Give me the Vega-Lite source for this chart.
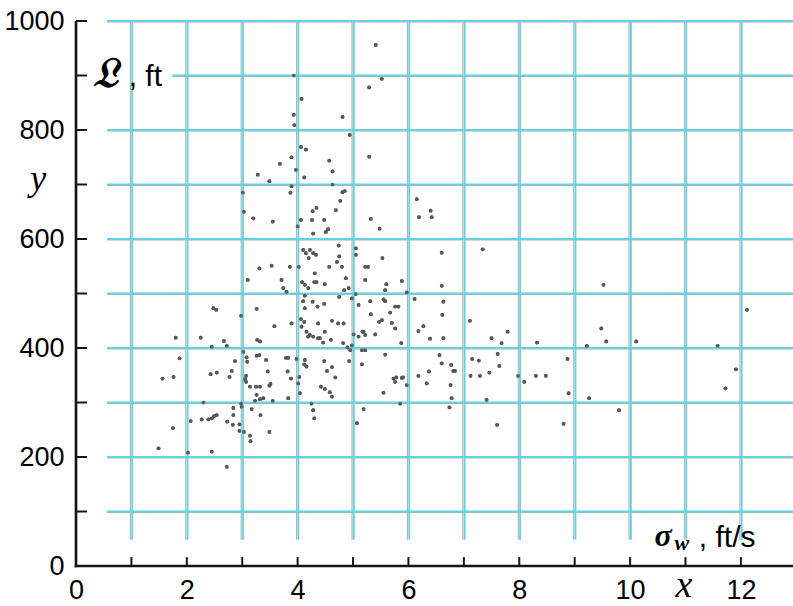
{
  "$schema": "https://vega.github.io/schema/vega-lite/v6.json",
  "width": 717,
  "height": 545,
  "autosize": {"type": "none"},
  "padding": {"left": 76, "top": 21, "right": 0, "bottom": 40},
  "background": "white",
  "config": {
    "view": {"stroke": null},
    "axis": {
      "grid": false,
      "domain": false,
      "ticks": false,
      "labelFont": "Liberation Sans",
      "labelFontSize": 27,
      "labelColor": "black"
    }
  },
  "datasets": {
    "pts": [
      {"s":5.41,"L":956},{"s":5.52,"L":894},{"s":5.29,"L":878},{"s":4.07,"L":857},{"s":3.93,"L":900},{"s":3.93,"L":828},{"s":3.94,"L":809},{"s":4.81,"L":824},{"s":4.94,"L":791},{"s":4.06,"L":769},
      {"s":4.15,"L":764},{"s":3.89,"L":750},{"s":3.68,"L":738},{"s":5.29,"L":751},{"s":4.57,"L":744},{"s":4.63,"L":724},{"s":3.28,"L":718},{"s":3.49,"L":706},{"s":4.12,"L":713},{"s":3.97,"L":727},
      {"s":3.89,"L":697},{"s":3.87,"L":685},{"s":4.63,"L":700},{"s":4.81,"L":686},{"s":4.85,"L":688},{"s":3.01,"L":685},{"s":4.77,"L":670},{"s":6.15,"L":673},{"s":3.03,"L":650},{"s":3.20,"L":638},
      {"s":3.55,"L":632},{"s":4.69,"L":653},{"s":4.27,"L":651},{"s":4.34,"L":657},{"s":4.06,"L":635},{"s":4.26,"L":635},{"s":4.48,"L":635},{"s":6.40,"L":652},{"s":6.42,"L":640},{"s":6.19,"L":640},
      {"s":4.00,"L":623},{"s":4.28,"L":610},{"s":4.51,"L":613},{"s":4.55,"L":618},{"s":5.32,"L":637},{"s":5.48,"L":619},{"s":4.74,"L":588},{"s":4.15,"L":574},{"s":4.22,"L":580},{"s":4.28,"L":574},
      {"s":4.33,"L":571},{"s":4.10,"L":580},{"s":4.20,"L":565},{"s":5.05,"L":583},{"s":5.05,"L":571},{"s":4.75,"L":568},{"s":5.53,"L":565},{"s":6.60,"L":575},{"s":7.34,"L":581},{"s":3.31,"L":546},
      {"s":3.53,"L":551},{"s":3.86,"L":549},{"s":4.02,"L":549},{"s":4.57,"L":549},{"s":4.80,"L":549},{"s":4.71,"L":558},{"s":5.22,"L":549},{"s":5.27,"L":549},{"s":3.10,"L":525},{"s":3.71,"L":525},
      {"s":3.74,"L":510},{"s":3.80,"L":503},{"s":4.08,"L":521},{"s":4.13,"L":516},{"s":4.19,"L":510},{"s":4.31,"L":537},{"s":4.30,"L":521},{"s":4.34,"L":521},{"s":4.49,"L":517},{"s":4.87,"L":528},
      {"s":4.92,"L":510},{"s":4.84,"L":506},{"s":4.75,"L":494},{"s":5.22,"L":525},{"s":5.60,"L":517},{"s":5.58,"L":506},{"s":5.88,"L":523},{"s":6.60,"L":514},{"s":9.52,"L":516},{"s":5.97,"L":502},
      {"s":6.11,"L":490},{"s":6.63,"L":485},{"s":6.61,"L":461},{"s":5.05,"L":499},{"s":4.98,"L":491},{"s":5.10,"L":479},{"s":5.31,"L":486},{"s":5.55,"L":489},{"s":5.58,"L":486},{"s":5.76,"L":476},
      {"s":5.67,"L":465},{"s":5.32,"L":462},{"s":5.82,"L":476},{"s":5.47,"L":448},{"s":5.52,"L":451},{"s":5.70,"L":446},{"s":5.76,"L":436},{"s":5.22,"L":424},{"s":5.17,"L":430},{"s":6.18,"L":431},
      {"s":6.27,"L":440},{"s":6.39,"L":417},{"s":6.63,"L":418},{"s":4.13,"L":496},{"s":4.10,"L":486},{"s":4.27,"L":485},{"s":4.48,"L":481},{"s":4.13,"L":473},{"s":4.36,"L":476},{"s":4.37,"L":445},
      {"s":4.62,"L":450},{"s":4.73,"L":445},{"s":4.83,"L":445},{"s":3.89,"L":445},{"s":4.06,"L":453},{"s":4.07,"L":439},{"s":4.12,"L":448},{"s":4.16,"L":430},{"s":4.22,"L":424},{"s":4.49,"L":430},
      {"s":5.01,"L":425},{"s":5.10,"L":421},{"s":5.19,"L":430},{"s":5.40,"L":425},{"s":4.37,"L":418},{"s":4.60,"L":415},{"s":4.82,"L":409},{"s":4.98,"L":405},{"s":4.95,"L":396},{"s":4.90,"L":401},
      {"s":5.22,"L":396},{"s":5.16,"L":396},{"s":4.19,"L":421},{"s":4.28,"L":421},{"s":4.40,"L":418},{"s":4.46,"L":410},{"s":5.87,"L":409},{"s":5.58,"L":388},{"s":5.16,"L":370},{"s":4.93,"L":376},
      {"s":6.56,"L":387},{"s":6.60,"L":372},{"s":6.77,"L":369},{"s":6.81,"L":358},{"s":6.37,"L":357},{"s":6.18,"L":349},{"s":6.33,"L":335},{"s":5.78,"L":346},{"s":5.76,"L":338},{"s":5.88,"L":345},
      {"s":5.97,"L":332},{"s":5.55,"L":318},{"s":5.85,"L":298},{"s":6.76,"L":332},{"s":6.78,"L":308},{"s":6.74,"L":291},{"s":5.19,"L":288},{"s":5.07,"L":262},{"s":4.48,"L":376},{"s":4.53,"L":358},
      {"s":4.62,"L":365},{"s":4.68,"L":346},{"s":4.42,"L":329},{"s":4.49,"L":325},{"s":4.58,"L":319},{"s":4.62,"L":311},{"s":4.13,"L":378},{"s":4.16,"L":366},{"s":4.12,"L":370},{"s":4.03,"L":347},
      {"s":4.01,"L":335},{"s":3.88,"L":344},{"s":3.83,"L":382},{"s":3.98,"L":380},{"s":3.83,"L":308},{"s":4.04,"L":317},{"s":4.25,"L":298},{"s":4.28,"L":286},{"s":4.30,"L":271},{"s":3.58,"L":440},
      {"s":1.80,"L":419},{"s":2.25,"L":419},{"s":2.67,"L":413},{"s":2.72,"L":404},{"s":2.45,"L":402},{"s":3.27,"L":415},{"s":3.32,"L":412},{"s":1.87,"L":381},{"s":2.87,"L":376},{"s":3.02,"L":393},
      {"s":3.08,"L":383},{"s":3.09,"L":375},{"s":3.26,"L":386},{"s":3.31,"L":387},{"s":3.43,"L":378},{"s":3.46,"L":357},{"s":3.51,"L":334},{"s":2.43,"L":352},{"s":2.54,"L":355},{"s":2.77,"L":347},
      {"s":2.81,"L":358},{"s":1.56,"L":344},{"s":1.76,"L":347},{"s":3.07,"L":349},{"s":3.05,"L":343},{"s":3.07,"L":338},{"s":3.14,"L":329},{"s":3.25,"L":329},{"s":3.26,"L":314},{"s":3.32,"L":306},
      {"s":3.23,"L":303},{"s":3.38,"L":308},{"s":3.55,"L":303},{"s":3.32,"L":329},{"s":3.49,"L":331},{"s":3.79,"L":382},{"s":3.82,"L":357},{"s":2.30,"L":300},{"s":2.84,"L":290},{"s":2.84,"L":277},
      {"s":2.98,"L":298},{"s":2.99,"L":292},{"s":3.17,"L":288},{"s":3.33,"L":277},{"s":3.49,"L":246},{"s":2.07,"L":266},{"s":2.27,"L":269},{"s":2.39,"L":269},{"s":2.45,"L":271},{"s":2.49,"L":275},
      {"s":2.54,"L":277},{"s":2.73,"L":265},{"s":2.83,"L":259},{"s":2.95,"L":260},{"s":1.75,"L":253},{"s":2.95,"L":248},{"s":3.03,"L":246},{"s":3.14,"L":239},{"s":3.15,"L":229},{"s":1.49,"L":216},
      {"s":2.02,"L":208},{"s":2.45,"L":210},{"s":2.72,"L":182},{"s":2.48,"L":473},{"s":2.53,"L":470},{"s":3.26,"L":472},{"s":2.98,"L":459},{"s":7.11,"L":450},{"s":7.50,"L":418},{"s":7.68,"L":409},
      {"s":7.79,"L":430},{"s":8.32,"L":410},{"s":9.22,"L":404},{"s":9.48,"L":436},{"s":9.57,"L":412},{"s":7.15,"L":380},{"s":7.27,"L":377},{"s":7.61,"L":389},{"s":7.64,"L":367},{"s":7.46,"L":355},
      {"s":7.12,"L":349},{"s":7.29,"L":349},{"s":6.84,"L":358},{"s":7.98,"L":349},{"s":8.09,"L":338},{"s":8.30,"L":349},{"s":8.48,"L":349},{"s":8.87,"L":380},{"s":8.89,"L":317},{"s":9.26,"L":308},
      {"s":7.41,"L":305},{"s":7.60,"L":259},{"s":8.80,"L":261},{"s":12.11,"L":470},{"s":10.11,"L":412},{"s":11.58,"L":404},{"s":11.91,"L":361},{"s":11.72,"L":326},{"s":9.80,"L":286},{"s":5.73,"L":344},
      {"s":5.90,"L":346}
    ],
    "vlines": [{"v":1},{"v":2},{"v":3},{"v":4},{"v":5},{"v":6},{"v":7},{"v":8},{"v":9},{"v":10},{"v":11},{"v":12}],
    "hlines": [
      {"h":100,"start":0.56},{"h":200,"start":0.56},{"h":300,"start":0.56},{"h":400,"start":0.56},{"h":500,"start":0.56},
      {"h":600,"start":0.56},{"h":700,"start":0.56},{"h":800,"start":0.56},{"h":900,"start":1.74},{"h":1000,"start":0.56}
    ],
    "yticks": [{"t":100},{"t":200},{"t":300},{"t":400},{"t":500},{"t":600},{"t":700},{"t":800},{"t":900},{"t":1000}]
  },
  "layer": [
    {
      "data": {"name": "pts"},
      "mark": {"type": "circle", "size": 14, "color": "#555555", "opacity": 0.9},
      "encoding": {
        "x": {
          "field": "s", "type": "quantitative",
          "scale": {"domain": [0, 12.94], "nice": false, "zero": false},
          "axis": {
            "title": null,
            "values": [0,2,4,6,8,10,12],
            "labelPadding": 11,
            "labelFlush": false,
            "labelOverlap": false
          }
        },
        "y": {
          "field": "L", "type": "quantitative",
          "scale": {"domain": [0, 1000], "nice": false},
          "axis": {
            "title": null,
            "values": [0,200,400,600,800,1000],
            "format": "d",
            "labelPadding": 12,
            "labelFlush": false,
            "labelOverlap": false
          }
        }
      }
    },
    {
      "data": {"values": [{}]},
      "mark": {"type": "rect", "fill": "#141414"},
      "encoding": {
        "x": {"datum": -0.024, "type": "quantitative"},
        "x2": {"datum": 0.024},
        "y": {"datum": -2.5, "type": "quantitative"},
        "y2": {"datum": 1000}
      }
    },
    {
      "data": {"values": [{}]},
      "mark": {"type": "rect", "fill": "#141414"},
      "encoding": {
        "x": {"datum": -0.024, "type": "quantitative"},
        "x2": {"datum": 12.94},
        "y": {"datum": -2.4, "type": "quantitative"},
        "y2": {"datum": 2.4}
      }
    },
    {
      "data": {"name": "yticks"},
      "mark": {"type": "tick", "orient": "horizontal", "size": 11, "thickness": 2, "color": "#141414", "opacity": 1},
      "encoding": {
        "y": {"field": "t", "type": "quantitative"},
        "x": {"datum": 0.1, "type": "quantitative"}
      }
    },
    {
      "data": {"name": "vlines"},
      "mark": {"type": "tick", "orient": "vertical", "size": 9, "thickness": 2, "color": "#141414", "opacity": 1},
      "encoding": {
        "x": {"field": "v", "type": "quantitative"},
        "y": {"datum": 8, "type": "quantitative"}
      }
    },
    {
      "data": {"name": "vlines"},
      "mark": {"type": "rule", "color": "#b3b3b3", "strokeWidth": 1.2, "xOffset": -1},
      "encoding": {
        "x": {"field": "v", "type": "quantitative"},
        "y": {"datum": 48, "type": "quantitative"},
        "y2": {"datum": 1000}
      }
    },
    {
      "data": {"name": "vlines"},
      "mark": {"type": "rule", "color": "#5fd4e6", "strokeWidth": 1.8, "xOffset": 0.8},
      "encoding": {
        "x": {"field": "v", "type": "quantitative"},
        "y": {"datum": 48, "type": "quantitative"},
        "y2": {"datum": 1000}
      }
    },
    {
      "data": {"name": "hlines"},
      "mark": {"type": "rule", "color": "#b3b3b3", "strokeWidth": 1.2, "yOffset": 1},
      "encoding": {
        "y": {"field": "h", "type": "quantitative"},
        "x": {"field": "start", "type": "quantitative"},
        "x2": {"datum": 12.94}
      }
    },
    {
      "data": {"name": "hlines"},
      "mark": {"type": "rule", "color": "#5fd4e6", "strokeWidth": 1.8},
      "encoding": {
        "y": {"field": "h", "type": "quantitative"},
        "x": {"field": "start", "type": "quantitative"},
        "x2": {"datum": 12.94}
      }
    },
    {
      "data": {"name": "pts"},
      "mark": {"type": "circle", "size": 14, "color": "#555555", "opacity": 0.9},
      "encoding": {
        "x": {"field": "s", "type": "quantitative"},
        "y": {"field": "L", "type": "quantitative"}
      }
    },
    {
      "data": {"values": [{}]},
      "mark": {"type": "text", "align": "left", "baseline": "alphabetic", "font": "DejaVu Serif", "fontStyle": "italic", "fontWeight": "bold", "fontSize": 42, "color": "black"},
      "encoding": {
        "x": {"datum": 0.3, "type": "quantitative"},
        "y": {"datum": 878, "type": "quantitative"},
        "text": {"value": "𝔏"}
      }
    },
    {
      "data": {"values": [{}]},
      "mark": {"type": "text", "align": "left", "baseline": "alphabetic", "font": "Liberation Sans", "fontSize": 30, "color": "black"},
      "encoding": {
        "x": {"datum": 0.95, "type": "quantitative"},
        "y": {"datum": 880, "type": "quantitative"},
        "text": {"value": ", ft"}
      }
    },
    {
      "data": {"values": [{}]},
      "mark": {"type": "text", "align": "center", "baseline": "alphabetic", "font": "Liberation Serif", "fontStyle": "italic", "fontSize": 36, "color": "black"},
      "encoding": {
        "x": {"datum": -0.68, "type": "quantitative"},
        "y": {"datum": 690, "type": "quantitative"},
        "text": {"value": "y"}
      }
    },
    {
      "data": {"values": [{}]},
      "mark": {"type": "text", "align": "center", "baseline": "alphabetic", "font": "Liberation Serif", "fontStyle": "italic", "fontSize": 38, "color": "black"},
      "encoding": {
        "x": {"datum": 10.97, "type": "quantitative"},
        "y": {"datum": -57, "type": "quantitative"},
        "text": {"value": "x"}
      }
    },
    {
      "data": {"values": [{}]},
      "mark": {"type": "text", "align": "left", "baseline": "alphabetic", "font": "Liberation Serif", "fontStyle": "italic", "fontWeight": "bold", "fontSize": 32, "color": "black"},
      "encoding": {
        "x": {"datum": 10.44, "type": "quantitative"},
        "y": {"datum": 37, "type": "quantitative"},
        "text": {"value": "σ"}
      }
    },
    {
      "data": {"values": [{}]},
      "mark": {"type": "text", "align": "left", "baseline": "alphabetic", "font": "Liberation Serif", "fontStyle": "italic", "fontWeight": "bold", "fontSize": 22, "color": "black"},
      "encoding": {
        "x": {"datum": 10.8, "type": "quantitative"},
        "y": {"datum": 30, "type": "quantitative"},
        "text": {"value": "w"}
      }
    },
    {
      "data": {"values": [{}]},
      "mark": {"type": "text", "align": "left", "baseline": "alphabetic", "font": "Liberation Sans", "fontSize": 30, "color": "black"},
      "encoding": {
        "x": {"datum": 11.24, "type": "quantitative"},
        "y": {"datum": 35, "type": "quantitative"},
        "text": {"value": ", ft/s"}
      }
    }
  ]
}
